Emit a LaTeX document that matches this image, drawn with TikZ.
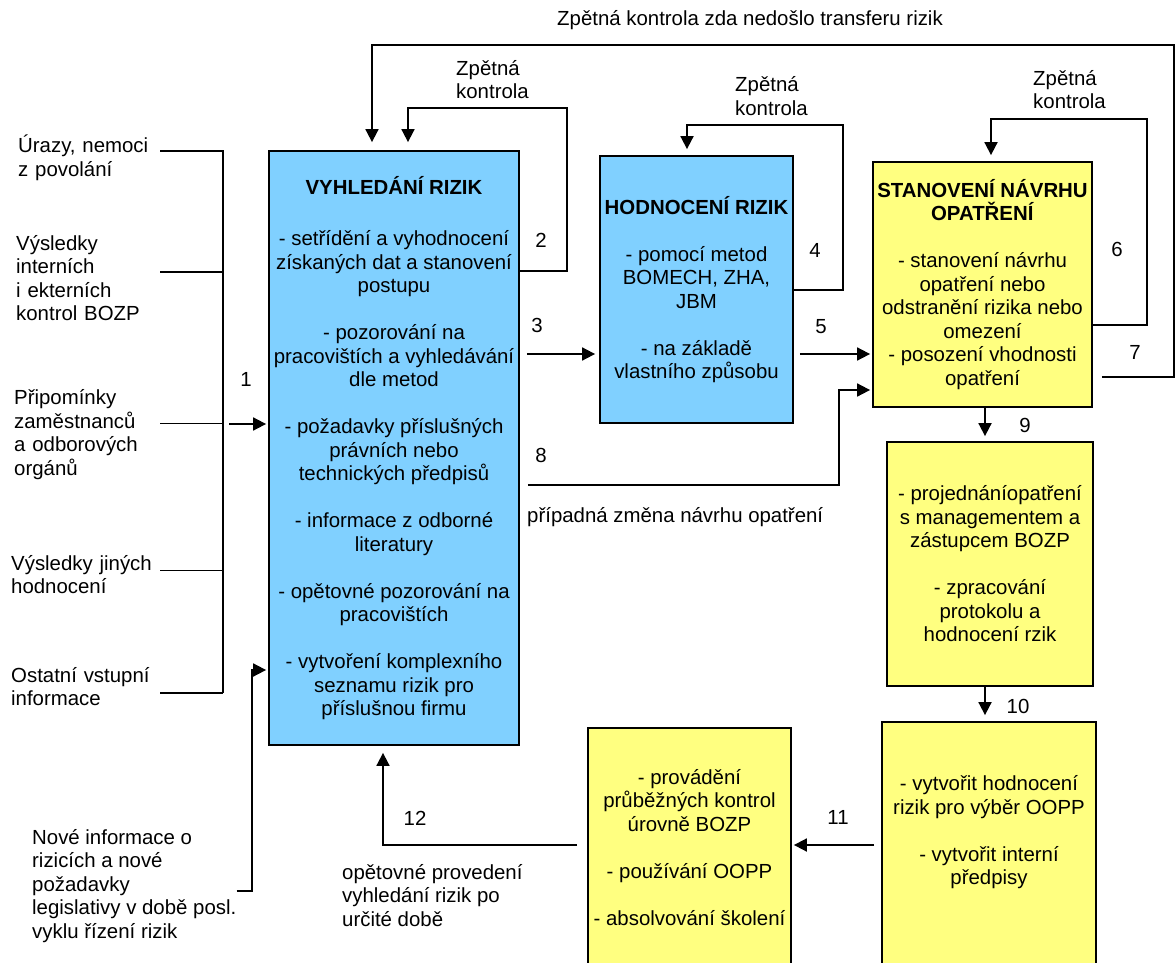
\documentclass[tikz,border=0pt]{standalone}
\usepackage{fontspec}
\setmainfont{Liberation Sans}
\usetikzlibrary{arrows.meta}
\definecolor{boxblue}{RGB}{128,208,255}
\definecolor{boxyellow}{RGB}{255,255,128}
\begin{document}
\begin{tikzpicture}[x=1pt, y=-1pt, font=\fontsize{20.4}{23.5}\selectfont,
  box/.style={draw, line width=1.8pt, inner sep=0pt, align=center},
  conn/.style={line width=1.8pt, -{Triangle[length=13pt,width=13pt]}},
  wire/.style={line width=1.8pt},
  lbl/.style={inner sep=0pt, align=left, anchor=west},
  num/.style={inner sep=0pt}]
\clip (0,0) rectangle (1176,963);
\node[box] (V) [fill=boxblue, minimum width=250pt, minimum height=594pt] at (394,448) {\textbf{VYHLEDÁNÍ RIZIK}\\[28pt]
- setřídění a vyhodnocení\\získaných dat a stanovení\\postupu\\[23.5pt]
- pozorování na\\pracovištích a vyhledávání\\dle metod\\[23.5pt]
- požadavky příslušných\\právních nebo\\technických předpisů\\[23.5pt]
- informace z odborné\\literatury\\[23.5pt]
- opětovné pozorování na\\pracovištích\\[23.5pt]
- vytvoření komplexního\\seznamu rizik pro\\příslušnou firmu};
\node[box] (H) [fill=boxblue, minimum width=193pt, minimum height=267pt] at (696.5,289.5) {\textbf{HODNOCENÍ RIZIK}\\[23.5pt]
- pomocí metod\\BOMECH, ZHA,\\JBM\\[23.5pt]
- na základě\\vlastního způsobu};
\node[box] (S) [fill=boxyellow, minimum width=219pt, minimum height=245pt] at (982.5,284.5) {\textbf{STANOVENÍ NÁVRHU}\\\textbf{OPATŘENÍ}\\[23.5pt]
- stanovení návrhu\\opatření nebo\\odstranění rizika nebo\\omezení\\- posození vhodnosti\\opatření};
\node[box] (P) [fill=boxyellow, minimum width=206pt, minimum height=244pt] at (990,564) {- projednáníopatření\\s managementem a\\zástupcem BOZP\\[23.5pt]
- zpracování\\protokolu a\\hodnocení rzik};
\node[box] (O) [fill=boxyellow, minimum width=214pt, minimum height=288pt] at (989,866) {};
\node[num, align=center] (Otext) at (989,832.5) {- vytvořit hodnocení\\rizik pro výběr OOPP\\[23.5pt]
- vytvořit interní\\předpisy};
\node[box] (K) [fill=boxyellow, minimum width=203pt, minimum height=282pt] at (689.5,869) {};
\node[num, align=center] (Ktext) at (689.5,847.5) {- provádění\\průběžných kontrol\\úrovně BOZP\\[23.5pt]
- používání OOPP\\[23.5pt]
- absolvování školení};
\node[lbl, text width=142pt] (urazy) at (18,158) {Úrazy, nemoci\\z povolání};
\node[lbl, text width=144pt] (kontroly) at (16,278) {Výsledky\\interních\\i ekterních\\kontrol BOZP};
\node[lbl, text width=146pt] (pripominky) at (14,434.5) {Připomínky\\zaměstnanců\\a odborových\\orgánů};
\node[lbl, text width=149pt] (jine) at (11,574.5) {Výsledky jiných\\hodnocení};
\node[lbl, text width=149pt] (ostatni) at (11,686.5) {Ostatní vstupní\\informace};
\node[lbl] (nove) at (32,886) {Nové informace o\\rizicích a nové\\požadavky\\legislativy v době posl.\\vyklu řízení rizik};
\node[lbl] (zk2) at (456,79.5) {Zpětná\\kontrola};
\node[lbl] (zk4) at (735,96) {Zpětná\\kontrola};
\node[lbl] (zk6) at (1033,89.5) {Zpětná\\kontrola};
\node[num] (transfer) at (750,20) {Zpětná kontrola zda nedošlo transferu rizik};
\node[num, anchor=west] (zmena) at (527,517) {případná změna návrhu opatření};
\node[lbl] (znovu) at (342,895.5) {opětovné provedení\\vyhledání rizik po\\určité době};
\node[num] (n1) at (246,379) {1};
\node[num] (n2) at (541,240) {2};
\node[num] (n3) at (537,325) {3};
\node[num] (n4) at (815,250) {4};
\node[num] (n5) at (821,327) {5};
\node[num] (n6) at (1117,249) {6};
\node[num] (n7) at (1135,352) {7};
\node[num] (n8) at (541,455) {8};
\node[num] (n9) at (1025,425) {9};
\node[num] (n10) at (1018,706) {10};
\node[num] (n11) at (838,817) {11};
\node[num] (n12) at (415,818) {12};
\coordinate (bus) at (223,693);
\coordinate (in1) at (229,424);
\coordinate (nv) at (252,670);
\coordinate (r2) at (567,271);
\coordinate (t2) at (567,108);
\coordinate (r4) at (843,290);
\coordinate (t4) at (843,125);
\coordinate (r6) at (1147,325);
\coordinate (t6) at (1147,119);
\coordinate (r7) at (1174,377);
\coordinate (t7) at (1174,45);
\coordinate (a3) at (560,354);
\coordinate (a5) at (830,354);
\coordinate (a8) at (839,485);
\coordinate (b8) at (839,390);
\coordinate (a9) at (985,420);
\coordinate (a11) at (830,845);
\coordinate (a12) at (383,845);
\draw[wire] ([yshift=7pt]urazy.east) -| (bus);
\draw[wire] ([yshift=6pt]kontroly.east) -- ++(63,0);
\draw[wire] ([yshift=11pt]pripominky.east) -- ++(63,0);
\draw[wire] ([yshift=4pt]jine.east) -- ++(63,0);
\draw[wire] ([yshift=-6.5pt]ostatni.east) -- (bus);
\draw[conn, shorten >=2pt] (in1) -- (V.west |- in1);
\draw[conn, shorten >=2pt] ([yshift=-5pt]nove.east) -| (nv) -- (V.west |- nv);
\draw[conn, shorten >=8pt] (V.east |- r2) -- (r2) -- (t2) -| ([xshift=14pt]V.north);
\draw[conn, shorten >=6pt] (H.east |- r4) -- (r4) -- (t4) -| ([xshift=-9.5pt]H.north);
\draw[conn, shorten >=6pt] (S.east |- r6) -- (r6) -- (t6) -| ([xshift=8.5pt]S.north);
\draw[conn, shorten <=9pt, shorten >=8pt] (S.east |- r7) -- (r7) -- (t7) -| ([xshift=-22pt]V.north);
\draw[conn, shorten <=7pt, shorten >=4pt] (V.east |- a3) -- (H.west |- a3);
\draw[conn, shorten <=6pt, shorten >=2pt] (H.east |- a5) -- (S.west |- a5);
\draw[conn, shorten <=8pt, shorten >=2pt] (V.east |- a8) -- (a8) -- (b8) -- (S.west |- b8);
\draw[conn, shorten >=5pt] (S.south -| a9) -- (P.north -| a9);
\draw[conn, shorten >=6pt] (P.south -| a9) -- (O.north -| a9);
\draw[conn, shorten <=7pt, shorten >=2pt] (O.west |- a11) -- (K.east |- a11);
\draw[conn, shorten <=10pt, shorten >=7pt] (K.west |- a12) -- (a12) -- (V.south -| a12);
\end{tikzpicture}
\end{document}
